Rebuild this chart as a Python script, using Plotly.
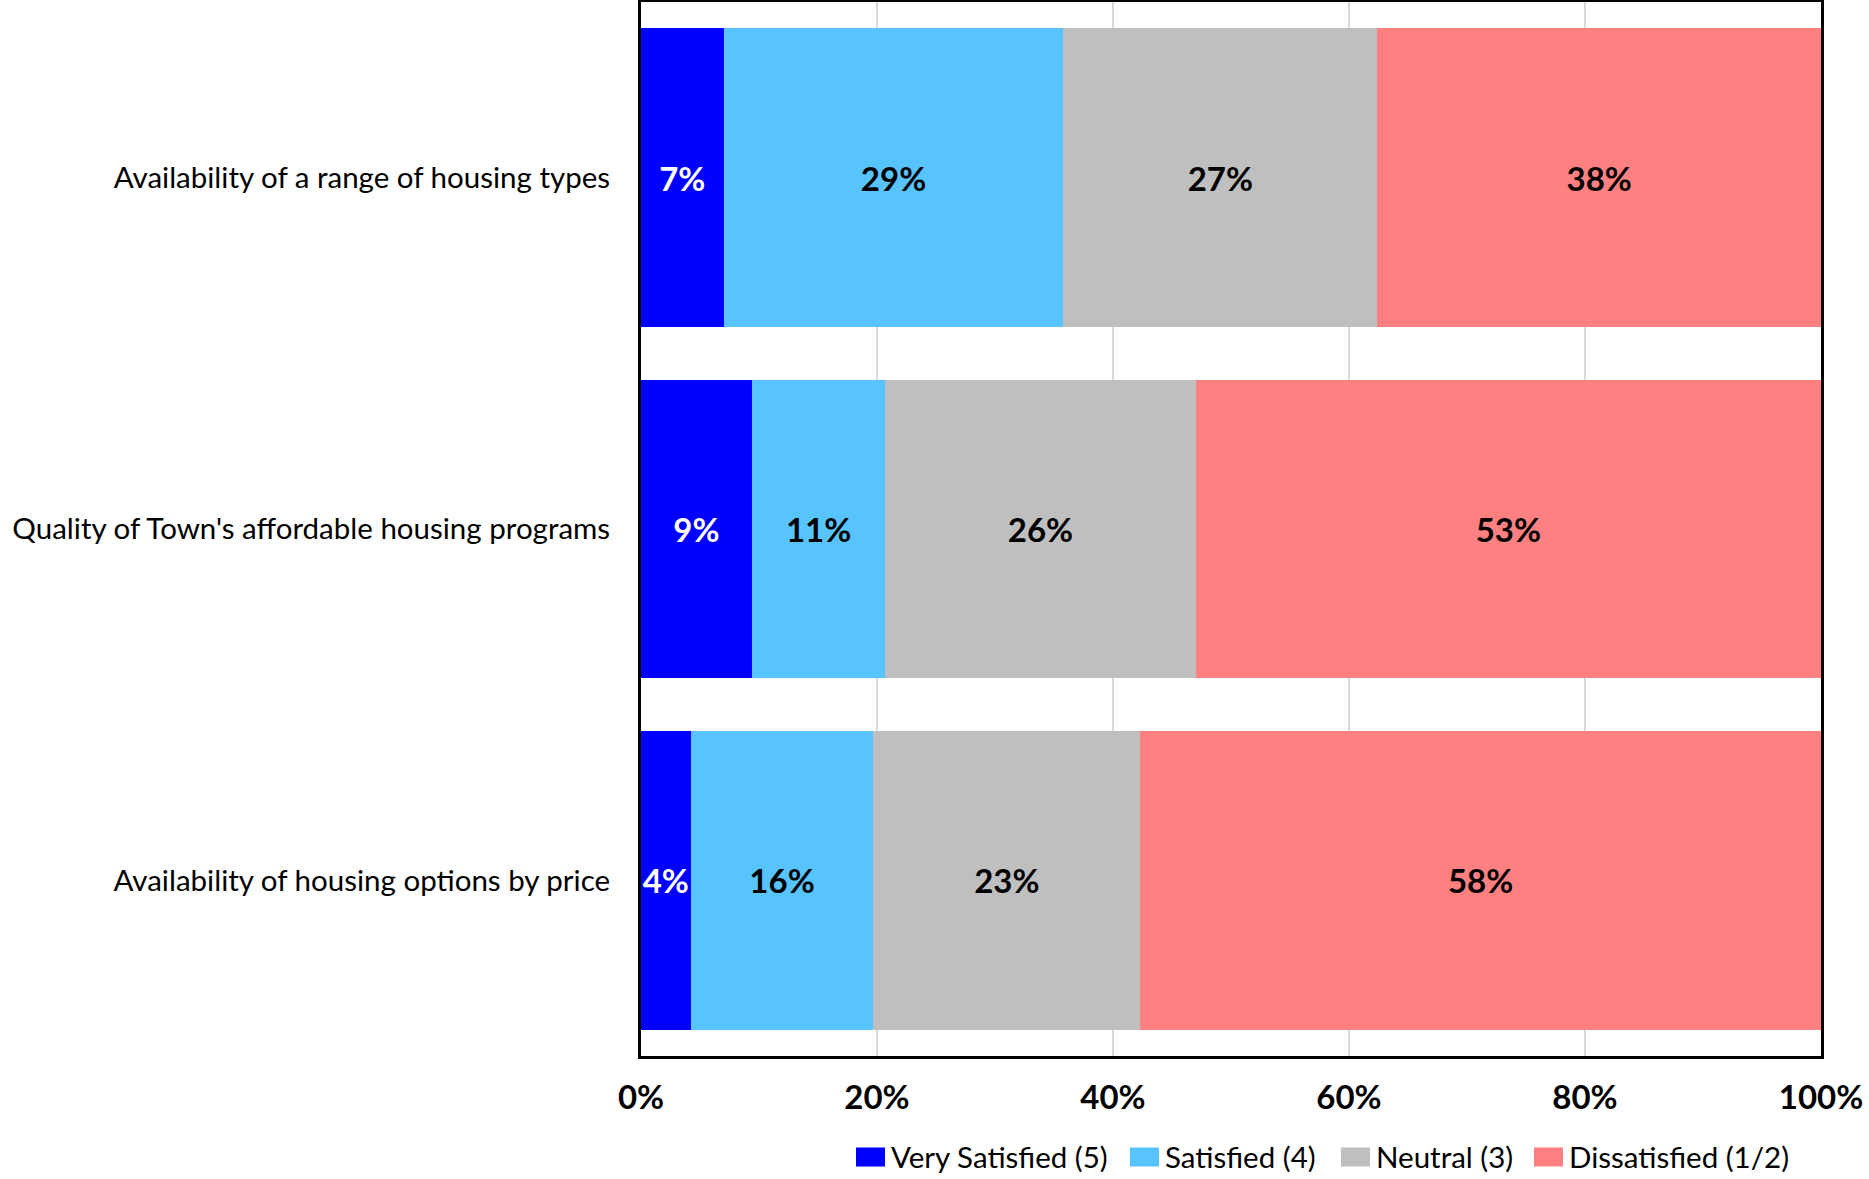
import plotly.graph_objects as go

# Survey items, listed top to bottom
categories = [
    "Availability of a range of housing types",
    "Quality of Town's affordable housing programs",
    "Availability of housing options by price",
]

# Share of respondents (%) per rating
very_satisfied = [7.0, 9.4, 4.2]
satisfied = [28.8, 11.3, 15.5]
neutral = [26.6, 26.3, 22.6]
dissatisfied = [37.6, 53.0, 57.7]

series_names = ["Very Satisfied (5)", "Satisfied (4)", "Neutral (3)", "Dissatisfied (1/2)"]
series_values = [very_satisfied, satisfied, neutral, dissatisfied]
series_colors = ["#0000FF", "#57C4FF", "#BFBFBF", "#FF8080"]
label_colors = ["white", "black", "black", "black"]

tick_vals = [0, 20, 40, 60, 80, 100]
tick_text = ["0%", "20%", "40%", "60%", "80%", "100%"]

FONT = "Lato"

# Figure geometry (pixels)
W, H = 1869, 1179
M_L, M_R, M_T, M_B = 641, 48, 2, 123
PLOT_W = W - M_L - M_R
PLOT_H = H - M_T - M_B

fig = go.Figure()
for name, vals, color, tcolor in zip(series_names, series_values, series_colors, label_colors):
    fig.add_trace(go.Bar(
        y=categories,
        x=vals,
        name=name,
        orientation="h",
        marker=dict(color=color, line=dict(width=0)),
        texttemplate="<b>%{x:.0f}%</b>",
        textposition="inside",
        insidetextanchor="middle",
        constraintext="none",
        textangle=0,
        textfont=dict(family=FONT, size=33, color=tcolor),
        hoverinfo="skip",
        showlegend=False,
    ))

# Legend keys drawn as wide swatches with labels beside them
legend_key_left_px = [856, 1130, 1341, 1534]
key_w, key_h = 29, 19
legend_center_px = 1157
shapes, annotations = [], []
for name, color, left in zip(series_names, series_colors, legend_key_left_px):
    x0 = (left - M_L) / PLOT_W
    x1 = (left + key_w - M_L) / PLOT_W
    yc = (M_T + PLOT_H - legend_center_px) / PLOT_H
    dy = (key_h / 2) / PLOT_H
    shapes.append(dict(type="rect", xref="paper", yref="paper",
                       x0=x0, x1=x1, y0=yc - dy, y1=yc + dy,
                       fillcolor=color, line=dict(width=0), layer="above"))
    annotations.append(dict(xref="paper", yref="paper", x=x1, y=yc,
                            xanchor="left", yanchor="middle", xshift=4,
                            text=name, showarrow=False,
                            font=dict(family=FONT, size=29.5, color="black")))

fig.update_layout(
    barmode="stack",
    bargap=0.15,
    width=W,
    height=H,
    margin=dict(l=M_L, r=M_R, t=M_T, b=M_B, autoexpand=False),
    paper_bgcolor="white",
    plot_bgcolor="white",
    font=dict(family=FONT, color="black"),
    showlegend=False,
    shapes=shapes,
    annotations=annotations,
    xaxis=dict(
        range=[0, 100],
        tickvals=tick_vals,
        ticktext=tick_text,
        tickfont=dict(family=FONT, size=33, color="black", weight="bold"),
        showgrid=True,
        gridcolor="#D9D9D9",
        gridwidth=1.5,
        showline=True,
        linecolor="black",
        linewidth=3,
        mirror=True,
        ticks="outside",
        ticklen=10,
        tickcolor="rgba(0,0,0,0)",
        zeroline=False,
        automargin=False,
        fixedrange=True,
    ),
    yaxis=dict(
        categoryorder="array",
        categoryarray=categories[::-1],
        tickfont=dict(family=FONT, size=29.5, color="black"),
        showline=True,
        linecolor="black",
        linewidth=3,
        mirror=True,
        ticks="outside",
        ticklen=22,
        tickcolor="rgba(0,0,0,0)",
        showgrid=False,
        automargin=False,
        fixedrange=True,
    ),
)

fig.write_html("out.html")
